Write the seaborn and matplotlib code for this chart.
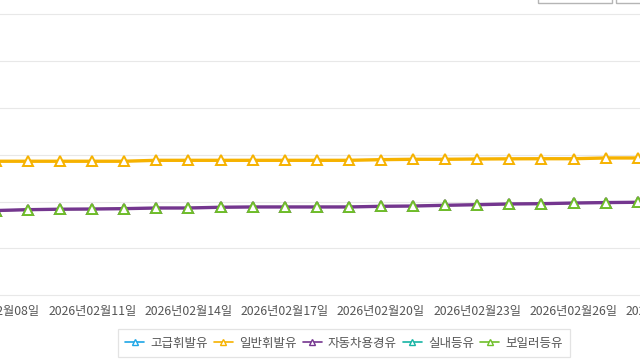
import numpy as np
import pandas as pd
import matplotlib
matplotlib.use("Agg")
import matplotlib.pyplot as plt
import matplotlib.dates as mdates
from matplotlib.lines import Line2D
from matplotlib.patches import Rectangle
import seaborn as sns

# ---------------- data ----------------
dates = ["2026-02-08", "2026-02-09", "2026-02-10", "2026-02-11", "2026-02-12",
         "2026-02-13", "2026-02-14", "2026-02-15", "2026-02-16", "2026-02-17",
         "2026-02-18", "2026-02-19", "2026-02-20", "2026-02-21", "2026-02-22",
         "2026-02-23", "2026-02-24", "2026-02-25", "2026-02-26", "2026-02-27",
         "2026-02-28"]

series_names = ["고급휘발유", "일반휘발유", "자동차용경유", "실내등유", "보일러등유"]

# not visible inside the shown window
premium_gasoline = [np.nan] * 21
regular_gasoline = [1743.1, 1743.1, 1743.1, 1743.1, 1743.1,
                    1744.1, 1744.1, 1744.1, 1744.1, 1744.1,
                    1744.1, 1744.1, 1744.8, 1745.2, 1745.2,
                    1745.5, 1745.7, 1745.8, 1745.8, 1746.6,
                    1746.6]
diesel = [1690.5, 1691.4, 1691.9, 1692.1, 1692.5,
          1693.2, 1693.2, 1694.0, 1694.3, 1694.3,
          1694.3, 1694.3, 1695.0, 1695.3, 1696.1,
          1696.7, 1697.5, 1697.8, 1698.5, 1699.0,
          1699.3]
indoor_kerosene = [np.nan] * 21
boiler_kerosene = [1690.5, 1691.4, 1691.9, 1692.1, 1692.5,
                   1693.2, 1693.2, 1694.0, 1694.3, 1694.3,
                   1694.3, 1694.3, 1695.0, 1695.3, 1696.1,
                   1696.7, 1697.5, 1697.8, 1698.5, 1699.0,
                   1699.3]

tick_dates = ["2026-02-08", "2026-02-11", "2026-02-14", "2026-02-17",
              "2026-02-20", "2026-02-23", "2026-02-26", "2026-03-01"]
y_grid = [1600, 1650, 1700, 1750, 1800, 1850, 1900]

colors = ["#1ea6e6", "#f6b200", "#74368f", "#17b4a4", "#6fbf2a"]

# ---------------- plotting ----------------
sns.set_theme(style="white")
plt.rcParams["font.family"] = ["Noto Sans CJK KR", "DejaVu Sans"]

fig = plt.figure(figsize=(6.4, 3.6), dpi=100)
# axes wider than the figure: the reference is a cropped view
ax = fig.add_axes([-100 / 640, 60 / 360, 840 / 640, 292 / 360])

x = pd.to_datetime(dates)
values = [premium_gasoline, regular_gasoline, diesel, indoor_kerosene, boiler_kerosene]
zorders = [3, 4, 5, 3, 2]

for name, vals, col, z in zip(series_names, values, colors, zorders):
    if np.all(np.isnan(vals)):
        continue
    if name == "보일러등유":
        # line sits beneath the diesel line, markers on top
        sns.lineplot(x=x, y=vals, ax=ax, color=col, lw=1.5, zorder=2,
                     legend=False)
        sns.lineplot(x=x, y=vals, ax=ax, color=col, lw=0, marker="^",
                     markersize=6.5, markerfacecolor="white", markeredgecolor=col,
                     markeredgewidth=1.4, zorder=7, legend=False)
    else:
        sns.lineplot(x=x, y=vals, ax=ax, color=col, lw=2.4, marker="^",
                     markersize=6.5, markerfacecolor="white", markeredgecolor=col,
                     markeredgewidth=1.4, zorder=z, legend=False)

# x axis mapping: day index -2.989 .. 23.187 relative to 2026-02-08
x0 = pd.Timestamp("2026-02-08")
ax.set_xlim(x0 + pd.Timedelta(days=-2.989), x0 + pd.Timedelta(days=23.187))
ax.set_ylim(1594.98, 1906.7)

ax.set_xticks(pd.to_datetime(tick_dates))
ax.xaxis.set_major_formatter(mdates.DateFormatter("%Y년%m월%d일"))
ax.set_yticks(y_grid)
ax.set_yticklabels([])
ax.tick_params(axis="x", length=0, pad=3.5, labelsize=8.8, colors="#555555")
ax.tick_params(axis="y", length=0)
ax.set_xlabel("")
ax.set_ylabel("")
ax.grid(axis="y", color="#e8e8e8", lw=0.8)
ax.grid(axis="x", visible=False)
for s in ax.spines.values():
    s.set_visible(False)
ax.set_facecolor("white")

# legend
handles = [Line2D([0], [0], color=c, lw=1.2, marker="^", markersize=5,
                  markerfacecolor="white", markeredgecolor=c, markeredgewidth=1.0)
           for c in colors]
leg = fig.legend(handles, series_names, loc="center",
                 bbox_to_anchor=(344 / 640, 16.7 / 360), ncol=5,
                 fontsize=9.0, frameon=True, fancybox=False,
                 handlelength=1.5, handletextpad=0.5, columnspacing=0.5,
                 borderpad=0.6, borderaxespad=0)
leg.get_frame().set_edgecolor("#dddddd")
leg.get_frame().set_linewidth(0.9)
for t in leg.get_texts():
    t.set_color("#555555")

# cropped UI buttons at the top-right
fig.patches.append(Rectangle((538 / 640, (360 - 2.7) / 360), 74 / 640, 0.05,
                             transform=fig.transFigure, fill=False,
                             ec="#b5b5b5", lw=1.0))
fig.patches.append(Rectangle((616 / 640, (360 - 2.7) / 360), 40 / 640, 0.05,
                             transform=fig.transFigure, fill=False,
                             ec="#b5b5b5", lw=1.0))

fig.savefig("out.png", dpi=100, facecolor="white")
